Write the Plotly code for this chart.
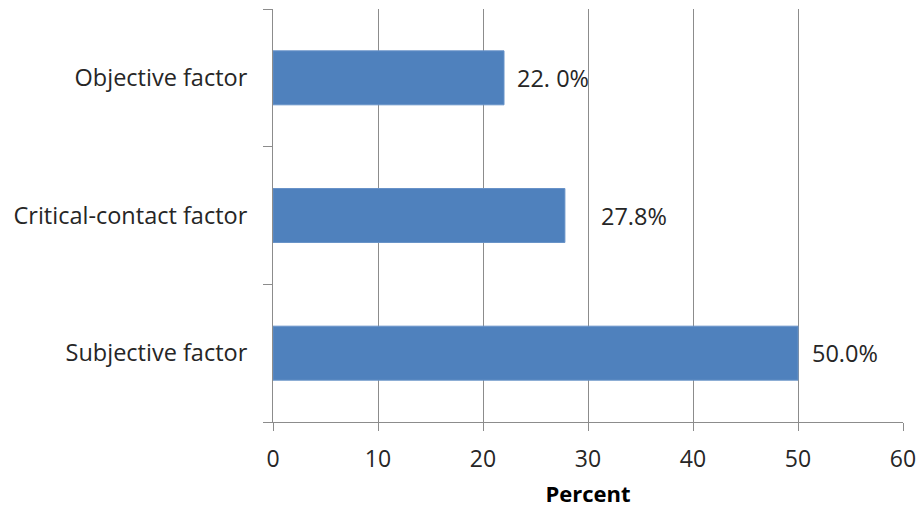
import plotly.graph_objects as go

# ---- data ----
categories = ["Subjective factor", "Critical-contact factor", "Objective factor"]
percent = [50.0, 27.8, 22.0]
value_labels = ["50.0%", "27.8%", "22. 0%"]
x_tick_values = [0, 10, 20, 30, 40, 50, 60]

# ---- style ----
label_shift_px = [12, 34, 11]
FONT = "Open Sans"
TEXT = "#262626"
GRID = "#8c8c8c"

fig = go.Figure(
    go.Bar(
        x=percent,
        y=categories,
        orientation="h",
        marker=dict(color="#4F81BD", line=dict(color="#6792C8", width=1)),
        hoverinfo="x+y",
    )
)

for v, c, t, s in zip(percent, categories, value_labels, label_shift_px):
    fig.add_annotation(
        x=v, y=c, text=t, showarrow=False, xanchor="left", yanchor="middle",
        xshift=s, font=dict(family=FONT, size=23.5, color=TEXT),
    )

fig.update_layout(
    width=918, height=508,
    margin=dict(l=273, r=15, t=9, b=86),
    paper_bgcolor="white", plot_bgcolor="white",
    bargap=0.608,
    showlegend=False,
    font=dict(family=FONT, color=TEXT),
    xaxis=dict(
        range=[0, 60], tickvals=x_tick_values,
        automargin=False,
        showgrid=True, gridcolor=GRID, gridwidth=1,
        showline=True, linecolor=GRID, linewidth=1,
        ticks="outside", ticklen=8, tickcolor=GRID,
        tickfont=dict(family=FONT, size=23, color=TEXT),
        ticklabelstandoff=8,
        zeroline=False,
        title=dict(text="<b>Percent</b>", font=dict(family=FONT, size=22, color="#000"), standoff=16),
    ),
    yaxis=dict(
        type="category", categoryorder="array", categoryarray=categories,
        range=[-0.5, 2.5],
        automargin=False,
        showgrid=False,
        showline=True, linecolor=GRID, linewidth=1,
        ticks="outside", ticklen=9, tickcolor=GRID, tickson="boundaries",
        tickfont=dict(family=FONT, size=23.5, color=TEXT),
        ticklabelstandoff=20,
        zeroline=False,
    ),
)

fig.write_html("out.html")
